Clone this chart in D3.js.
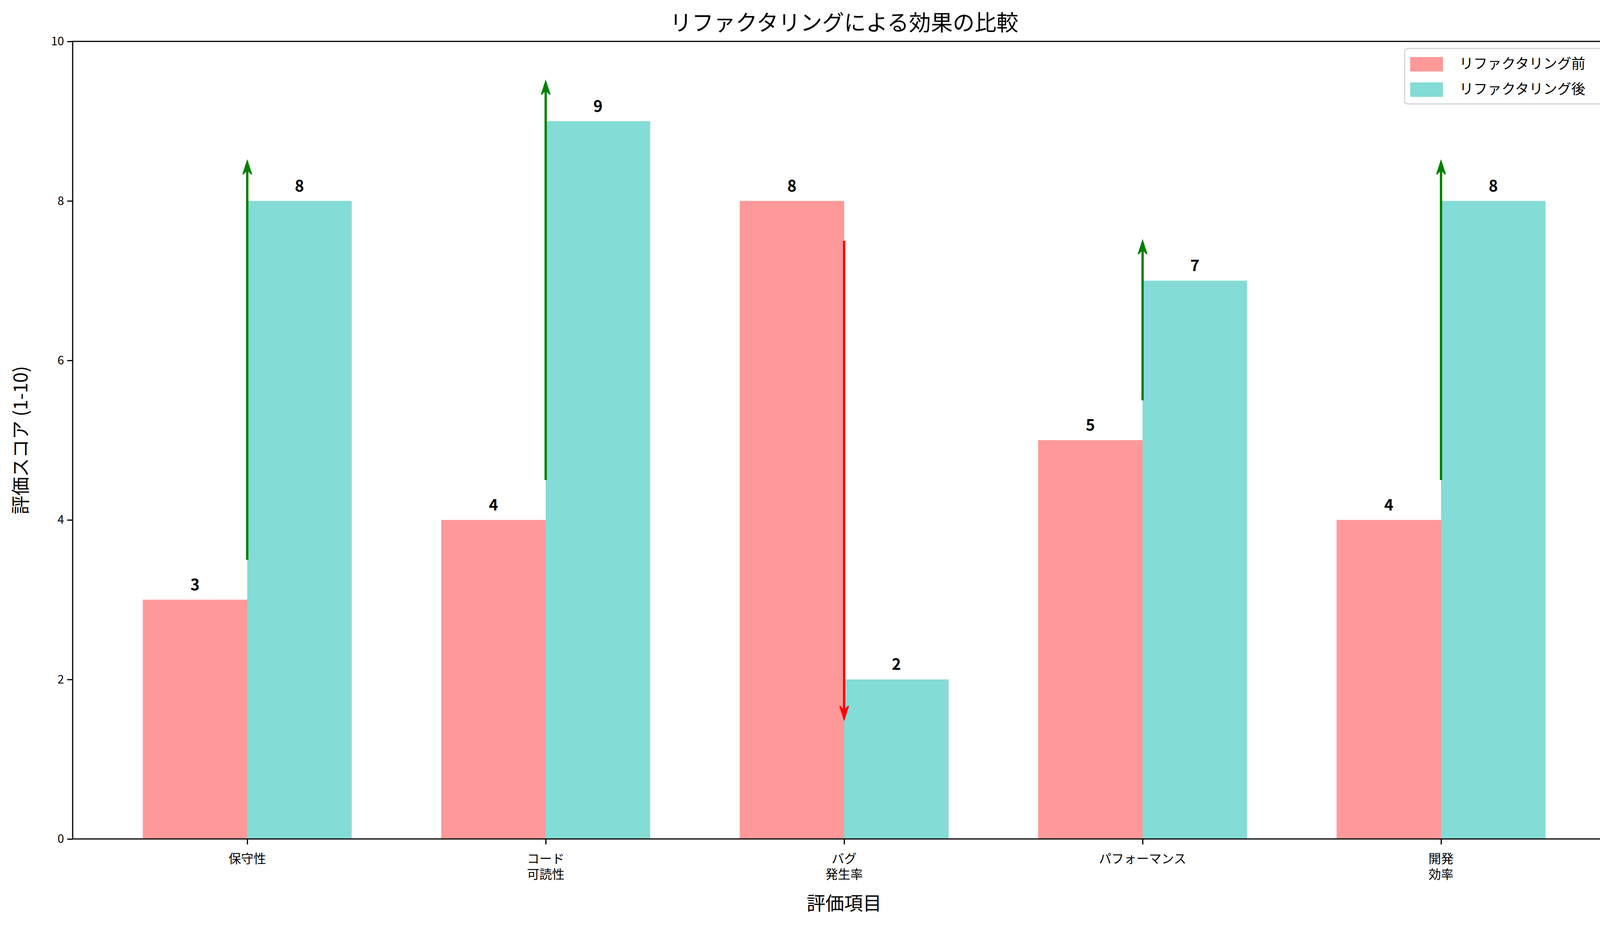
<!DOCTYPE html>
<html><head><meta charset="utf-8">
<script src="https://cdn.jsdelivr.net/npm/d3@7"></script>
<style>body{margin:0;background:#fff}text{font-family:"Noto Sans CJK JP","DejaVu Sans",sans-serif}</style>
</head><body><svg id="c" width="4168" height="2376"></svg>
<script>
const categories = ["保守性", "コード\n可読性", "バグ\n発生率", "パフォーマンス", "開発\n効率"];
const before = [3, 4, 8, 5, 4];
const after = [8, 9, 2, 7, 8];
const seriesNames = ["リファクタリング前", "リファクタリング後"];
const yTicks = [0, 2, 4, 6, 8, 10];
const colors = ["#ff9999", "#83dcd5"];

const svg = d3.select("#c");
const L = 186, R = 4136, T = 106, B = 2148;
const x = d3.scaleLinear().domain([-0.585, 4.585]).range([L, R]);
const y = d3.scaleLinear().domain([0, 10]).range([B, T]);
const w = 0.35;

const g = svg.append("g");
categories.forEach((c, i) => {
  g.append("rect").attr("x", x(i - w)).attr("y", y(before[i])).attr("width", x(w) - x(0)).attr("height", y(0) - y(before[i])).attr("fill", colors[0]);
  g.append("rect").attr("x", x(i)).attr("y", y(after[i])).attr("width", x(w) - x(0)).attr("height", y(0) - y(after[i])).attr("fill", colors[1]);
  [[before[i], i - w / 2], [after[i], i + w / 2]].forEach(([v, xc]) => {
    g.append("text").attr("x", x(xc)).attr("y", y(v + 0.12)).attr("text-anchor", "middle")
      .attr("font-size", 40).attr("font-weight", "bold").attr("font-family", "DejaVu Sans").text(v);
  });
  const up = after[i] > before[i];
  const col = up ? "#008000" : "#ff0000";
  const y0 = y(before[i] + (up ? 0.5 : -0.5)), y1 = y(after[i] + (up ? 0.5 : -0.5));
  const dir = up ? 1 : -1;
  g.append("line").attr("x1", x(i)).attr("x2", x(i)).attr("y1", y0).attr("y2", y1 + dir * 6).attr("stroke", col).attr("stroke-width", 6);
  g.append("path").attr("d", `M${x(i)},${y1} L${x(i) - 11},${y1 + dir * 34} L${x(i)},${y1 + dir * 22} L${x(i) + 11},${y1 + dir * 34}Z`).attr("fill", col).attr("stroke", col).attr("stroke-width", 3);
});

// axes
const ya = svg.append("g").attr("transform", `translate(${L},0)`).call(d3.axisLeft(y).tickValues(yTicks).tickSize(14).tickPadding(8));
ya.selectAll("text").attr("font-size", 30).attr("font-family", "DejaVu Sans");
ya.select(".domain").remove();
ya.selectAll("line").attr("stroke-width", 3);
const xa = svg.append("g").attr("transform", `translate(0,${B})`).call(d3.axisBottom(x).tickValues(d3.range(5)).tickSize(14).tickFormat(""));
xa.select(".domain").remove();
xa.selectAll("line").attr("stroke-width", 3);
categories.forEach((c, i) => {
  const t = svg.append("text").attr("x", x(i)).attr("y", B + 62).attr("text-anchor", "middle").attr("font-size", 32);
  c.split("\n").forEach((s, k) => t.append("tspan").attr("x", x(i)).attr("dy", k ? 40 : 0).text(s));
});
svg.append("rect").attr("x", L).attr("y", T).attr("width", R - L).attr("height", B - T).attr("fill", "none").attr("stroke", "#000").attr("stroke-width", 3);

svg.append("text").attr("x", (L + R) / 2).attr("y", 78).attr("text-anchor", "middle").attr("font-size", 56).text("リファクタリングによる効果の比較");
svg.append("text").attr("x", (L + R) / 2).attr("y", 2330).attr("text-anchor", "middle").attr("font-size", 48).text("評価項目");
svg.append("text").attr("transform", `translate(70,${(T + B) / 2}) rotate(-90)`).attr("text-anchor", "middle").attr("font-size", 48).text("評価スコア (1-10)");

// legend
const lg = svg.append("g").attr("transform", "translate(3596,124)");
lg.append("rect").attr("width", 528).attr("height", 142).attr("rx", 8).attr("fill", "#fff").attr("stroke", "#d6d6d6").attr("stroke-width", 3);
seriesNames.forEach((s, k) => {
  lg.append("rect").attr("x", 14).attr("y", 22 + k * 65).attr("width", 84).attr("height", 37).attr("fill", colors[k]);
  lg.append("text").attr("x", 140).attr("y", 52 + k * 65).attr("font-size", 36).text(s);
});
</script></body></html>
